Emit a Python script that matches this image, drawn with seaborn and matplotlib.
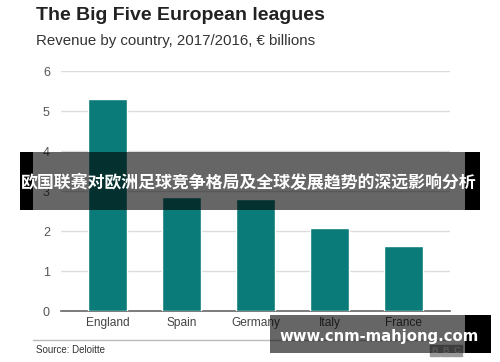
import pandas as pd
import matplotlib
matplotlib.use("Agg")
import matplotlib.pyplot as plt
from matplotlib.patches import Rectangle
import seaborn as sns

countries = ["England", "Spain", "Germany", "Italy", "France"]
revenue = [5.3, 2.85, 2.79, 2.07, 1.63]
y_ticks = [0, 1, 2, 3, 4, 5, 6]

TEAL = "#0b7b79"
W, H = 500, 362


def px(x, y):
    # pixel coordinates -> figure fraction
    return x / W, 1 - y / H


def create_chart():
    sns.set_style("white")
    plt.rcParams["font.family"] = ["Liberation Sans", "DejaVu Sans"]

    df = pd.DataFrame({"Country": countries, "Revenue": revenue})

    fig = plt.figure(figsize=(5, 3.62), dpi=100)
    ax = fig.add_axes([61 / W, 51 / H, 389 / W, 240 / H])
    sns.barplot(data=df, x="Country", y="Revenue", color=TEAL, width=0.53,
                saturation=1, ax=ax, zorder=3)

    ax.set_ylim(0, 6)
    ax.set_xlim(-0.628, 4.628)
    ax.set_yticks(y_ticks)
    ax.set_xlabel("")
    ax.set_ylabel("")
    ax.grid(axis="y", color="#dcdcdc", linewidth=1, zorder=0)
    for s in ["top", "right", "left"]:
        ax.spines[s].set_visible(False)
    ax.spines["bottom"].set_color("#666666")
    ax.spines["bottom"].set_linewidth(1.2)
    ax.tick_params(axis="y", length=0, pad=8, labelsize=9, labelcolor="#555555")
    ax.tick_params(axis="x", length=0, pad=4, labelsize=8.6, labelcolor="#444444")

    fx, fy = px(36, 15)
    fig.text(fx, fy, "The Big Five European leagues", fontsize=14,
             fontweight="bold", color="#222222", va="center", ha="left")
    fx, fy = px(36, 41)
    fig.text(fx, fy, "Revenue by country, 2017/2016, \u20ac billions",
             fontsize=10.8, color="#333333", va="center", ha="left")

    # footer rule and source
    x0, y0 = px(33, 340)
    x1, _ = px(450, 340)
    fig.add_artist(plt.Line2D([x0, x1], [y0, y0], color="#bbbbbb", lw=1,
                              transform=fig.transFigure))
    fx, fy = px(36, 350)
    fig.text(fx, fy, "Source: Deloitte", fontsize=7, color="#333333",
             va="center", ha="left")

    # BBC blocks
    for i, ch in enumerate("BBC"):
        bx, by = px(430 + i * 11, 356)
        fig.add_artist(Rectangle((bx, by), 10 / W, 11 / H, color="#9a9a9a",
                                 transform=fig.transFigure, zorder=5))
        cx, cy = px(435 + i * 11, 350.5)
        fig.text(cx, cy, ch, fontsize=6.5, fontweight="bold", color="#dddddd",
                 ha="center", va="center", zorder=6)

    # watermark band with Chinese title
    for x, w, a in [(20, 13, 1.0), (33, 432, 0.6), (465, 15, 1.0)]:
        bx, by = px(x, 210)
        fig.add_artist(Rectangle((bx, by), w / W, 58 / H, color="black",
                                 alpha=a, lw=0, transform=fig.transFigure, zorder=10))
    fx, fy = px(249, 183)
    fig.text(fx, fy, "欧国联赛对欧洲足球竞争格局及全球发展趋势的深远影响分析",
             fontsize=12.2, fontweight="bold", color="white", ha="center",
             va="center", family=["Noto Sans CJK SC", "DejaVu Sans"], zorder=11)

    # bottom watermark
    for x, w, a in [(270, 195, 0.6), (465, 26, 1.0)]:
        bx, by = px(x, 353)
        fig.add_artist(Rectangle((bx, by), w / W, 38 / H, color="black",
                                 alpha=a, lw=0, transform=fig.transFigure, zorder=10))
    fx, fy = px(379, 337)
    fig.text(fx, fy, "www.cnm-mahjong.com", fontsize=10.7, fontweight="bold",
             color="white", ha="center", va="center", family="DejaVu Sans",
             zorder=11)

    fig.savefig("out.png", dpi=100)


if __name__ == "__main__":
    create_chart()
